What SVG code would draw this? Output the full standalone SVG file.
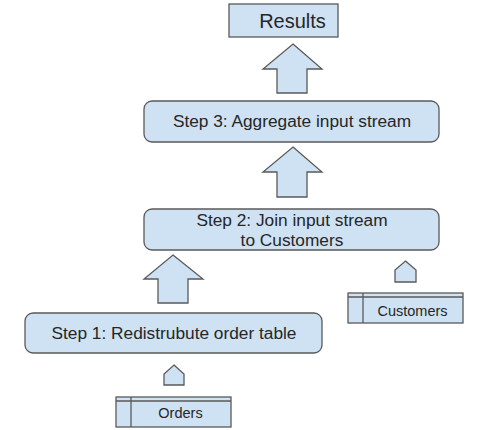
<svg xmlns="http://www.w3.org/2000/svg" width="477" height="430" viewBox="0 0 477 430">
  <style>
    .box { fill: #cfe2f3; stroke: #595959; stroke-width: 1.3; }
    .arrow { fill: #cfe2f3; stroke: #595959; stroke-width: 1.3; stroke-linejoin: miter; }
    .tbl { fill: #cfe2f3; stroke: #595959; stroke-width: 1.3; }
    .tline { fill: none; stroke: #595959; stroke-width: 1.3; }
    text { font-family: "Liberation Sans", Arial, sans-serif; fill: #262626; text-anchor: middle; }
    .big { font-size: 20px; }
    .step { font-size: 17.3px; }
    .small { font-size: 14.5px; }
  </style>
  <rect width="477" height="430" fill="#ffffff"/>

  <g id="results">
    <rect class="box" x="229" y="4" width="109" height="33"/>
    <text class="big" x="292.5" y="28">Results</text>
  </g>

  <g id="step3">
    <rect class="box" x="144" y="101" width="295" height="41" rx="8" ry="8"/>
    <text class="step" x="292" y="127">Step 3: Aggregate input stream</text>
  </g>

  <g id="step2">
    <rect class="box" x="144" y="209" width="295" height="41" rx="8" ry="8"/>
    <text class="step" x="292" y="226">Step 2: Join input stream</text>
    <text class="step" x="292" y="246">to Customers</text>
  </g>

  <g id="step1">
    <rect class="box" x="25" y="313" width="297" height="40" rx="8" ry="8"/>
    <text class="step" x="174" y="339">Step 1: Redistrubute order table</text>
  </g>

  <g id="customers">
    <rect class="tbl" x="348" y="293" width="115" height="30"/>
    <line class="tline" x1="348" y1="297" x2="463" y2="297"/>
    <line class="tline" x1="363" y1="293" x2="363" y2="323"/>
    <text class="small" x="412.5" y="316">Customers</text>
  </g>

  <g id="orders">
    <rect class="tbl" x="116" y="397" width="115" height="30"/>
    <line class="tline" x1="116" y1="401" x2="231" y2="401"/>
    <line class="tline" x1="131" y1="397" x2="131" y2="427"/>
    <text class="small" x="180.5" y="418">Orders</text>
  </g>

  <g id="connectors">
    <!-- block arrows between stages -->
    <polygon class="arrow" points="293,44 322,69 307,69 307,93 277,93 277,69 263,69"/>
    <polygon class="arrow" points="293,147 322,172 307,172 307,197 277,197 277,172 263,172"/>
    <polygon class="arrow" points="173,255 203,279 188,279 188,303 158,303 158,279 144,279"/>
    <!-- small feed arrows from tables -->
    <polygon class="arrow" points="405.5,261 416,270 416,282 395,282 395,270"/>
    <polygon class="arrow" points="174,365 184,374 184,385 164,385 164,374"/>
  </g>
</svg>
